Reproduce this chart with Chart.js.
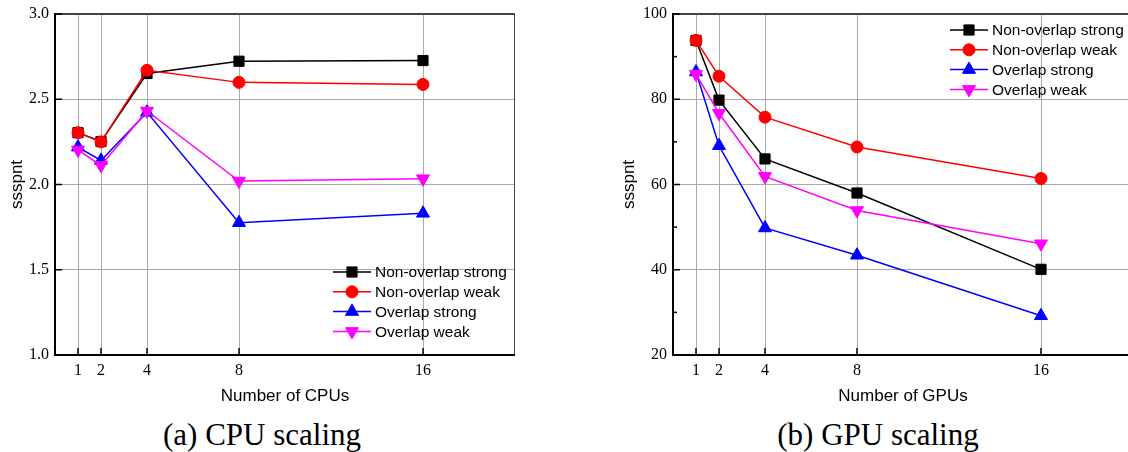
<!DOCTYPE html>
<html lang="en">
<head>
    <meta charset="UTF-8">
    <title>CPU / GPU scaling</title>
    <script src="https://cdn.jsdelivr.net/npm/chart.js@4"></script>
    <style>
        html, body {
            margin: 0;
            padding: 0;
            background: #fff;
            width: 1128px;
            height: 452px;
            overflow: hidden;
            position: relative;
        }
        .panel {
            position: absolute;
            top: 0;
            width: 540px;
            height: 415px;
        }
        #cpuPanel { left: 0; }
        #gpuPanel { left: 612px; }
        .caption {
            position: absolute;
            top: 417px;
            width: 300px;
            text-align: center;
            font-family: "Liberation Serif", serif;
            font-size: 31px;
            line-height: 36px;
            color: #000;
        }
    </style>
</head>
<body>

    <div class="panel" id="cpuPanel"><canvas id="cpuChart"></canvas></div>
    <div class="panel" id="gpuPanel"><canvas id="gpuChart"></canvas></div>
    <div class="caption" style="left:112px">(a) CPU scaling</div>
    <div class="caption" style="left:728px">(b) GPU scaling</div>

    <script>
        // x positions (number of devices) and tick marks
        const cpuCounts = [1, 2, 4, 8, 16];
        const gpuCounts = [1, 2, 4, 8, 16];
        const xTicks = [1, 2, 4, 8, 16];
        const seriesNames = ["Non-overlap strong", "Non-overlap weak", "Overlap strong", "Overlap weak"];

        // CPU panel values
        const cpuNonOverlapStrong = [2.304, 2.252, 2.651, 2.723, 2.727];
        const cpuNonOverlapWeak = [2.304, 2.250, 2.670, 2.599, 2.587];
        const cpuOverlapStrong = [2.219, 2.141, 2.423, 1.776, 1.831];
        const cpuOverlapWeak = [2.203, 2.112, 2.431, 2.020, 2.034];

        // GPU panel values
        const gpuNonOverlapStrong = [93.8, 79.8, 66.0, 58.0, 40.1];
        const gpuNonOverlapWeak = [93.8, 85.4, 75.8, 68.8, 61.4];
        const gpuOverlapStrong = [86.4, 69.1, 49.8, 43.4, 29.2];
        const gpuOverlapWeak = [85.9, 76.7, 61.9, 53.9, 46.1];

        const gpuMinorTicks = [30, 50, 70, 90];

        const seriesStyles = [
            { color: "#000000", pointStyle: "rect", radius: 7.2, rotation: 0 },
            { color: "#ff0000", pointStyle: "circle", radius: 6, rotation: 0 },
            { color: "#0000ff", pointStyle: "triangle", radius: 7.5, rotation: 0 },
            { color: "#ff00ff", pointStyle: "triangle", radius: 7.5, rotation: 180 }
        ];

        function makeDatasets(xs, lists) {
            return lists.map((vals, i) => {
                const st = seriesStyles[i];
                return {
                    label: seriesNames[i],
                    data: xs.map((x, j) => ({ x: x, y: vals[j] })),
                    borderColor: st.color,
                    backgroundColor: st.color,
                    borderWidth: 1.5,
                    pointStyle: st.pointStyle,
                    pointRadius: st.radius,
                    pointRotation: st.rotation,
                    pointBorderWidth: 1,
                    pointHoverRadius: st.radius,
                    tension: 0,
                    order: lists.length - 1 - i
                };
            });
        }

        function line(ctx, x1, y1, x2, y2) {
            ctx.beginPath();
            ctx.moveTo(x1, y1);
            ctx.lineTo(x2, y2);
            ctx.stroke();
        }

        // frame, inward tick marks and the in-plot legend
        const framePlugin = {
            id: "frame",
            afterDraw(chart, args, opts) {
                const ctx = chart.ctx;
                const { left, right, top, bottom } = chart.chartArea;
                const xs = chart.scales.x, ys = chart.scales.y;
                ctx.save();

                ctx.strokeStyle = "#444";
                ctx.lineWidth = 2;
                line(ctx, left, top, right, top);
                ctx.lineWidth = 1;
                line(ctx, right - 0.5, top, right - 0.5, bottom);

                ctx.strokeStyle = "#000";
                ctx.lineWidth = 2;
                line(ctx, left, top - 1, left, bottom + 1);
                line(ctx, left - 1, bottom, right, bottom);

                ctx.lineWidth = 1.5;
                xTicks.forEach(v => {
                    const px = xs.getPixelForValue(v);
                    line(ctx, px, bottom, px, bottom - 7);
                });
                ys.ticks.forEach(t => {
                    const py = ys.getPixelForValue(t.value);
                    line(ctx, left, py, left + 7, py);
                });
                (opts.minorY || []).forEach(v => {
                    const py = ys.getPixelForValue(v);
                    line(ctx, left, py, left + 4, py);
                });

                const lg = opts.legend;
                ctx.font = "15.5px 'Liberation Sans', Arial, sans-serif";
                ctx.textBaseline = "middle";
                ctx.textAlign = "left";
                chart.data.datasets.forEach((ds, i) => {
                    const y = lg.y + i * lg.row;
                    const x0 = left + lg.x;
                    ctx.strokeStyle = ds.borderColor;
                    ctx.fillStyle = ds.backgroundColor;
                    ctx.lineWidth = 1.5;
                    line(ctx, x0, y, x0 + 38, y);
                    ctx.lineWidth = 1;
                    Chart.helpers.drawPoint(ctx, {
                        pointStyle: ds.pointStyle,
                        radius: ds.pointRadius,
                        rotation: ds.pointRotation,
                        borderWidth: 1
                    }, x0 + 19, y);
                    ctx.fillStyle = "#000";
                    ctx.fillText(ds.label, x0 + 42, y + 1);
                });
                ctx.restore();
            }
        };

        function renderChart(canvasId, datasets, yMin, yMax, yStep, yDigits, axisWidth, xTitle, legend, minorY) {
            new Chart(document.getElementById(canvasId), {
                type: "line",
                data: { datasets: datasets },
                plugins: [framePlugin],
                options: {
                    responsive: true,
                    maintainAspectRatio: false,
                    animation: false,
                    layout: { padding: { top: 14, right: 540 - axisWidth - 460, left: 0, bottom: 0 } },
                    plugins: {
                        legend: { display: false },
                        tooltip: { enabled: false },
                        frame: { legend: legend, minorY: minorY }
                    },
                    scales: {
                        x: {
                            type: "linear",
                            min: 0,
                            max: 20,
                            afterBuildTicks: s => { s.ticks = xTicks.map(v => ({ value: v })); },
                            afterFit: s => { s.height = 60; s.paddingLeft = 0; s.paddingRight = 0; },
                            grid: { color: "#aaaaaa", lineWidth: 1, drawTicks: false },
                            border: { display: false },
                            ticks: {
                                padding: 6,
                                autoSkip: false,
                                maxRotation: 0,
                                color: "#000",
                                font: { family: "Liberation Serif", size: 16 },
                                callback: v => String(v)
                            },
                            title: {
                                display: true,
                                text: xTitle,
                                color: "#000",
                                font: { family: "Liberation Sans", size: 17 },
                                padding: { top: 0, bottom: 8 }
                            }
                        },
                        y: {
                            min: yMin,
                            max: yMax,
                            afterFit: s => { s.width = axisWidth; s.paddingTop = 0; s.paddingBottom = 0; },
                            grid: { color: "#aaaaaa", lineWidth: 1, drawTicks: false },
                            border: { display: false },
                            ticks: {
                                stepSize: yStep,
                                padding: 6,
                                color: "#000",
                                font: { family: "Liberation Serif", size: 16 },
                                callback: v => v.toFixed(yDigits)
                            },
                            title: {
                                display: true,
                                text: "ssspnt",
                                color: "#000",
                                font: { family: "Liberation Sans", size: 17 },
                                padding: { top: 7, bottom: 0 }
                            }
                        }
                    }
                }
            });
        }

        renderChart("cpuChart",
            makeDatasets(cpuCounts, [cpuNonOverlapStrong, cpuNonOverlapWeak, cpuOverlapStrong, cpuOverlapWeak]),
            1.0, 3.0, 0.5, 1, 55, "Number of CPUs",
            { x: 278, y: 272, row: 19.8 }, []);

        renderChart("gpuChart",
            makeDatasets(gpuCounts, [gpuNonOverlapStrong, gpuNonOverlapWeak, gpuOverlapStrong, gpuOverlapWeak]),
            20, 100, 20, 0, 61, "Number of GPUs",
            { x: 277, y: 30, row: 19.8 }, gpuMinorTicks);
    </script>

</body>
</html>
